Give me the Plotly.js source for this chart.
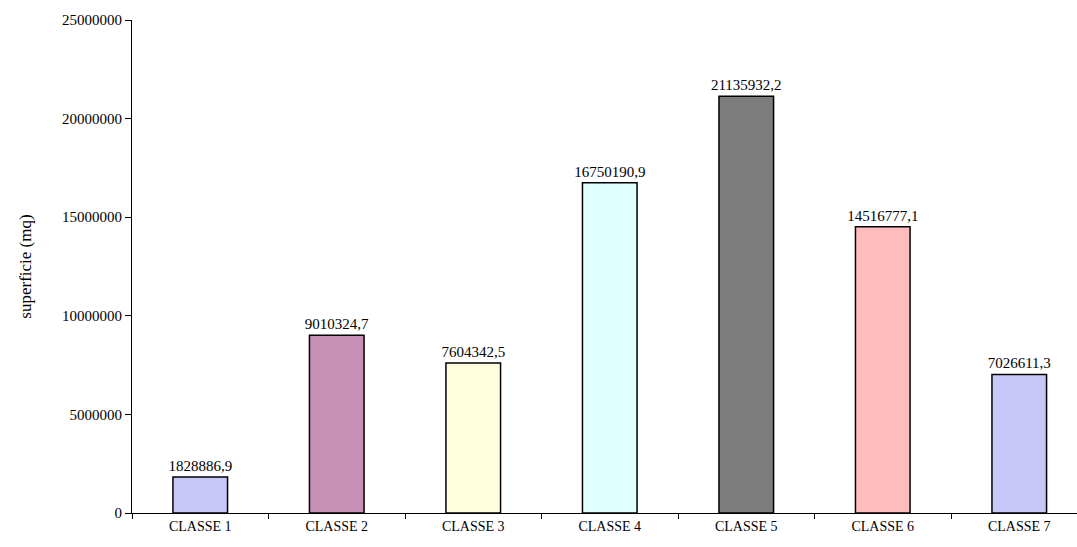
<!DOCTYPE html>
<html>
<head>
<meta charset="utf-8">
<script src="https://cdn.plot.ly/plotly-3.0.1.min.js"></script>
<style>html,body{margin:0;padding:0;background:#fff;}#chart{width:1077px;height:547px;}</style>
</head>
<body>
<div id="chart"></div>
<script>
const categories = ["CLASSE 1","CLASSE 2","CLASSE 3","CLASSE 4","CLASSE 5","CLASSE 6","CLASSE 7"];
const values = [1828886.9, 9010324.7, 7604342.5, 16750190.9, 21135932.2, 14516777.1, 7026611.3];
const barColors = ["#c8c8f8","#c690b6","#ffffe0","#e0ffff","#7c7c7c","#ffbcbc","#c8c8f8"];
const yTicks = [0, 5000000, 10000000, 15000000, 20000000, 25000000];

const labels = values.map(v => v.toFixed(1).replace('.', ','));
const fam = "Liberation Serif, Times New Roman, serif";

const trace = {
  type: "bar",
  x: categories,
  y: values,
  width: 0.4,
  text: labels,
  textposition: "outside",
  constraintext: "none",
  cliponaxis: false,
  textfont: {family: fam, size: 15, color: "#000"},
  marker: {
    color: barColors,
    line: {color: "#000", width: 1.5}
  },
  hoverinfo: "x+y"
};

const layout = {
  width: 1077, height: 547,
  margin: {l: 132, r: 0, t: 20, b: 34},
  paper_bgcolor: "#fff", plot_bgcolor: "#fff",
  font: {family: fam, size: 14, color: "#000"},
  showlegend: false,
  xaxis: {
    type: "category",
    range: [-0.5, 6.423],
    showline: true, linecolor: "#000", linewidth: 1,
    ticks: "outside", tickson: "boundaries", ticklen: 5, tickcolor: "#000",
    showgrid: false, zeroline: false,
    tickfont: {family: fam, size: 14, color: "#000"}
  },
  yaxis: {
    range: [0, 25000000],
    tickvals: yTicks,
    ticktext: yTicks.map(String),
    showline: true, linecolor: "#000", linewidth: 1,
    ticks: "outside", ticklen: 6, tickcolor: "#000",
    showgrid: false, zeroline: false,
    tickfont: {family: fam, size: 15, color: "#000"},
    title: {text: "superficie (mq)", font: {family: fam, size: 17, color: "#000"}, standoff: 26}
  }
};

Plotly.newPlot("chart", [trace], layout, {displayModeBar: false, staticPlot: true});
</script>
</body>
</html>
